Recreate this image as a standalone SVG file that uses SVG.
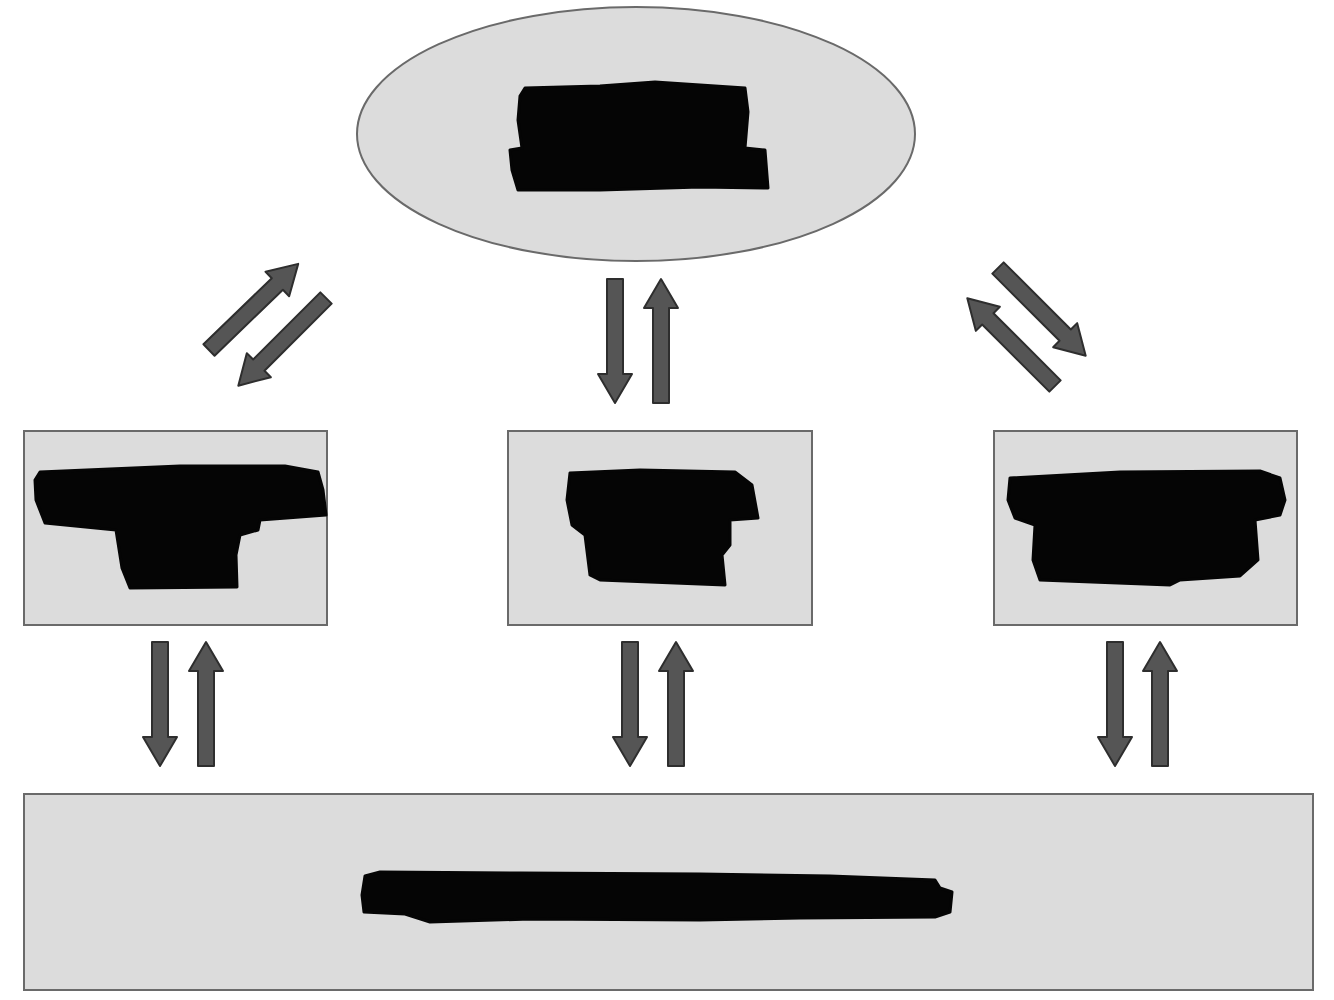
<svg xmlns="http://www.w3.org/2000/svg" xmlns:xlink="http://www.w3.org/1999/xlink" width="1334" height="1000" viewBox="0 0 1334 1000">
<style>
.node{fill:#dcdcdc;stroke:#6a6a6a;stroke-width:2}
.redact{fill:#050505;stroke:#050505;stroke-width:3;stroke-linejoin:round}
.arrow{fill:#555555;stroke:#2e2e2e;stroke-width:2;stroke-linejoin:round}
</style>
<defs>
<path id="arr" d="M0,-8 H95 V-17 L124,0 L95,17 V8 H0 Z"/>
</defs>
<rect width="1334" height="1000" fill="#ffffff"/>
<g id="node-top">
<ellipse class="node" cx="636" cy="134" rx="279" ry="127"/>
<polygon class="redact" points="525,88 600,86 655,82 745,88 748,112 745,148 765,150 768,188 700,187 600,190 518,190 512,170 510,150 522,148 518,120 520,96"/>
</g>
<g id="node-left">
<rect class="node" x="24" y="431" width="303" height="194"/>
<polygon class="redact" points="40,472 180,466 285,466 318,472 323,490 326,515 260,520 258,530 240,535 236,555 237,587 130,588 122,568 116,530 45,523 36,500 35,480"/>
</g>
<g id="node-middle">
<rect class="node" x="508" y="431" width="304" height="194"/>
<polygon class="redact" points="570,473 640,470 735,472 752,485 758,518 730,520 730,545 722,555 725,585 600,580 590,575 585,535 572,525 567,500"/>
</g>
<g id="node-right">
<rect class="node" x="994" y="431" width="303" height="194"/>
<polygon class="redact" points="1010,478 1120,472 1260,471 1280,478 1285,500 1280,515 1255,520 1258,560 1240,576 1180,580 1170,585 1040,580 1033,560 1035,525 1015,518 1008,500"/>
</g>
<g id="node-bottom">
<rect class="node" x="24" y="794" width="1289" height="196"/>
<polygon class="redact" points="365,876 380,872 520,873 700,874 830,876 935,880 940,888 952,892 950,912 935,917 800,918 700,920 530,919 430,922 405,914 364,912 362,895"/>
</g>
<g id="connectors" class="arrow">
<use xlink:href="#arr" transform="translate(209,350) rotate(-44)"/>
<use xlink:href="#arr" transform="translate(326,298) rotate(135)"/>
<use xlink:href="#arr" transform="translate(615,279) rotate(90)"/>
<use xlink:href="#arr" transform="translate(661,403) rotate(-90)"/>
<use xlink:href="#arr" transform="translate(998,268) rotate(45)"/>
<use xlink:href="#arr" transform="translate(1055,386) rotate(-135)"/>
<use xlink:href="#arr" transform="translate(160,642) rotate(90)"/>
<use xlink:href="#arr" transform="translate(206,766) rotate(-90)"/>
<use xlink:href="#arr" transform="translate(630,642) rotate(90)"/>
<use xlink:href="#arr" transform="translate(676,766) rotate(-90)"/>
<use xlink:href="#arr" transform="translate(1115,642) rotate(90)"/>
<use xlink:href="#arr" transform="translate(1160,766) rotate(-90)"/>
</g>
</svg>
